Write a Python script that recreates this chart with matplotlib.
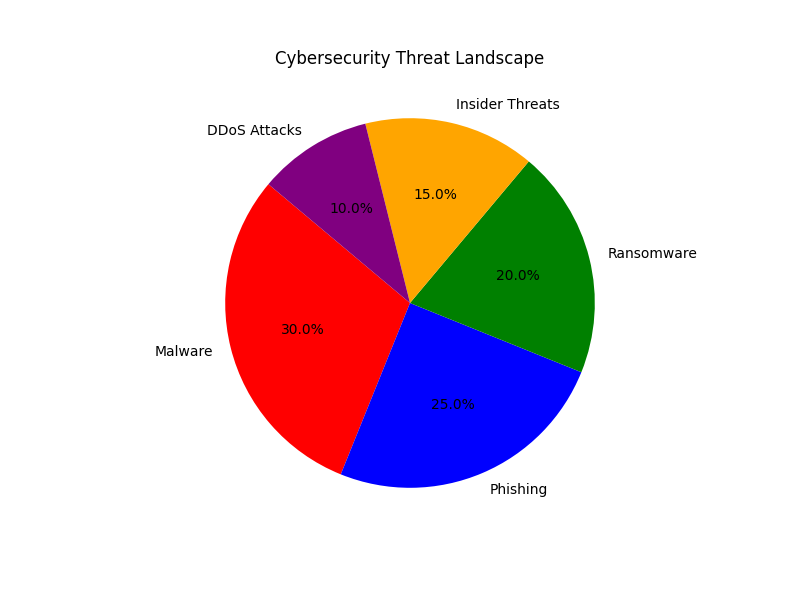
import matplotlib
matplotlib.use('Agg')
import matplotlib.pyplot as plt

threat_types = ['Malware', 'Phishing', 'Ransomware', 'Insider Threats', 'DDoS Attacks']
threat_shares = [30, 25, 20, 15, 10]
slice_colors = ['red', 'blue', 'green', 'orange', 'purple']

plt.figure(figsize=(8, 6))
plt.pie(threat_shares, labels=threat_types, colors=slice_colors,
        autopct='%1.1f%%', startangle=140)
plt.title('Cybersecurity Threat Landscape')
plt.savefig('out.png', dpi=100)
plt.close()
